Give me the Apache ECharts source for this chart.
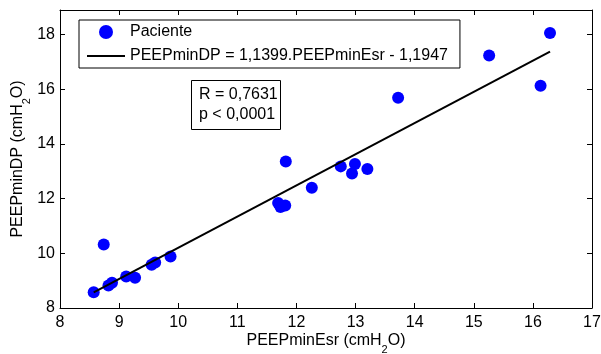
<!DOCTYPE html>
<html>
<head>
<meta charset="utf-8">
<script src="https://cdn.jsdelivr.net/npm/echarts@6/dist/echarts.min.js"></script>
<style>
html,body{margin:0;padding:0;background:#fff;}
#chart{width:601px;height:354px;}
</style>
</head>
<body>
<div id="chart"></div>
<script>
// Data
var peepMinEsr = [8.57, 8.74, 8.82, 8.88, 9.12, 9.27, 9.55, 9.61, 9.87, 11.69, 11.73, 11.81, 11.82, 12.26, 12.75, 12.94, 12.99, 13.20, 13.72, 15.26, 16.13, 16.29];
var peepMinDP  = [8.58, 10.32, 8.82, 8.92, 9.15, 9.11, 9.58, 9.66, 9.88, 11.84, 11.69, 11.75, 13.36, 12.40, 13.18, 12.92, 13.27, 13.08, 15.69, 17.24, 16.13, 18.06];
var fitSlope = 1.1399;
var fitIntercept = -1.1947;
var fitRange = [8.57, 16.29];
var xTicks = [8, 9, 10, 11, 12, 13, 14, 15, 16, 17];
var yTicks = [8, 10, 12, 14, 16, 18];
var seriesNames = ['Paciente', 'PEEPminDP = 1,1399.PEEPminEsr - 1,1947'];
var statsText = ['R = 0,7631', 'p < 0,0001'];

var scatterData = peepMinEsr.map(function (x, i) { return [x, peepMinDP[i]]; });
var fitData = fitRange.map(function (x) { return [x, fitSlope * x + fitIntercept]; });

var FONT = "'Liberation Sans', Arial, sans-serif";
var FS = 16;
var chart = echarts.init(document.getElementById('chart'), null, {renderer: 'canvas'});

var subRich = {
  sub: {fontSize: 11, fontFamily: FONT, color: '#000', verticalAlign: 'bottom', padding: [0, 0, -6, 0]}
};

chart.setOption({
  animation: false,
  backgroundColor: '#fff',
  textStyle: {fontFamily: FONT},
  grid: {left: 60, right: 9, top: 10, bottom: 46, containLabel: false, outerBoundsMode: 'none'},
  title: {
    text: statsText.join('\n'),
    left: 191, top: 80,
    borderColor: '#000', borderWidth: 1,
    backgroundColor: '#fff',
    padding: [5, 3, 5, 8],
    textStyle: {fontSize: FS, fontWeight: 'normal', color: '#000', fontFamily: FONT, lineHeight: 20}
  },
  legend: {
    orient: 'vertical',
    left: 79, top: 20,
    borderColor: '#000', borderWidth: 1,
    backgroundColor: '#fff',
    padding: [4, 12, 4, 8],
    itemWidth: 38, itemHeight: 14, itemGap: 8,
    textStyle: {fontSize: FS, color: '#000', fontFamily: FONT},
    data: [
      {name: seriesNames[0], icon: 'circle', itemStyle: {color: '#0000ff'}},
      {name: seriesNames[1], icon: 'path://M0,0H38V2H0Z', itemStyle: {color: '#000'}}
    ]
  },
  xAxis: [{
    type: 'value', min: xTicks[0], max: xTicks[xTicks.length - 1], interval: 1,
    name: 'PEEPminEsr (cmH{sub|2}O)',
    nameLocation: 'middle', nameGap: 25, nameMoveOverlap: false,
    nameTextStyle: {fontSize: FS, color: '#000', fontFamily: FONT, rich: subRich},
    axisLine: {show: true, lineStyle: {color: '#000', width: 1}},
    axisTick: {show: true, inside: true, length: 5, lineStyle: {color: '#000'}},
    axisLabel: {fontSize: FS, color: '#000', margin: 7, fontFamily: FONT},
    splitLine: {show: false}
  }, {
    type: 'value', position: 'top', min: xTicks[0], max: xTicks[xTicks.length - 1], interval: 1,
    axisLine: {show: true, lineStyle: {color: '#000', width: 1}},
    axisTick: {show: true, inside: true, length: 5, lineStyle: {color: '#000'}},
    axisLabel: {show: false},
    splitLine: {show: false}
  }],
  yAxis: [{
    type: 'value', min: yTicks[0], max: 18.9, interval: 2,
    name: 'PEEPminDP (cmH{sub|2}O)',
    nameLocation: 'middle', nameGap: 34, nameRotate: 90, nameMoveOverlap: false,
    nameTextStyle: {fontSize: FS, color: '#000', fontFamily: FONT, rich: subRich},
    axisLine: {show: true, lineStyle: {color: '#000', width: 1}},
    axisTick: {show: true, inside: true, length: 5, lineStyle: {color: '#000'}},
    axisLabel: {fontSize: FS, color: '#000', margin: 5, fontFamily: FONT, showMaxLabel: false,
      formatter: function (v) { return yTicks.indexOf(v) >= 0 ? String(v) : ''; }},
    splitLine: {show: false}
  }, {
    type: 'value', position: 'right', min: yTicks[0], max: 18.9, interval: 2,
    axisLine: {show: true, lineStyle: {color: '#000', width: 1}},
    axisTick: {show: true, inside: true, length: 5, lineStyle: {color: '#000'}},
    axisLabel: {show: false},
    splitLine: {show: false}
  }],
  series: [{
    name: seriesNames[0],
    type: 'scatter',
    xAxisIndex: 0, yAxisIndex: 0,
    data: scatterData,
    symbol: 'circle',
    symbolSize: 12,
    itemStyle: {color: '#0000ff', opacity: 1},
    z: 3
  }, {
    name: seriesNames[1],
    type: 'line',
    xAxisIndex: 0, yAxisIndex: 0,
    data: fitData,
    showSymbol: false,
    symbol: 'none',
    lineStyle: {color: '#000', width: 2},
    itemStyle: {color: '#000'},
    z: 4
  }]
});
</script>
</body>
</html>
